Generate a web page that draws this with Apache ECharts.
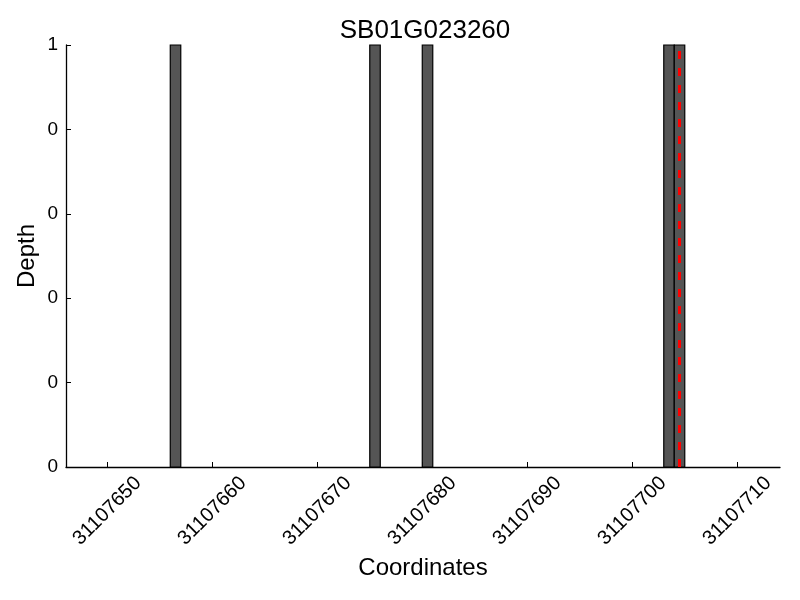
<!DOCTYPE html>
<html>
<head>
<meta charset="utf-8">
<script src="https://cdn.jsdelivr.net/npm/echarts@6/dist/echarts.min.js"></script>
<style>html,body{margin:0;padding:0;background:#fff}#main{width:800px;height:600px}</style>
</head>
<body>
<div id="main"></div>
<script>
const titleText = 'SB01G023260';
const positions = [31107656, 31107675, 31107680, 31107703, 31107704];
const depths = [1, 1, 1, 1, 1];
const markerPositions = [31107704.5];
const xTicks = [31107650, 31107660, 31107670, 31107680, 31107690, 31107700, 31107710];
const yTicks = [0, 0.2, 0.4, 0.6, 0.8, 1];
const xMin = 31107646.07, xMax = 31107714.07;

const chart = echarts.init(document.getElementById('main'), null, {renderer: 'canvas'});
const FONT = 'Liberation Sans';
const barData = positions.map((p, i) => [p, depths[i]]);
const markerData = [];
markerPositions.forEach(m => { markerData.push([m, 0]); markerData.push([m, 1]); });

chart.setOption({
  animation: false,
  backgroundColor: '#ffffff',
  textStyle: {fontFamily: FONT},
  title: {
    text: titleText, left: 420, top: 13, textAlign: 'center',
    textStyle: {fontFamily: FONT, fontSize: 26, fontWeight: 'normal', color: '#000'}
  },
  grid: {left: 66, right: 20, top: 45, bottom: 133},
  xAxis: {
    type: 'value', min: xMin, max: xMax,
    name: 'Coordinates', nameLocation: 'middle', nameGap: 89, nameMoveOverlap: false,
    nameTextStyle: {fontFamily: FONT, fontSize: 24, color: '#000'},
    axisLine: {show: true, onZero: false, lineStyle: {color: '#000', width: 1.3}},
    axisTick: {show: true, inside: true, length: 5, customValues: xTicks, lineStyle: {color: '#000', width: 1}},
    axisLabel: {
      customValues: xTicks, rotate: 45, align: 'center', verticalAlign: 'middle', margin: 44,
      fontFamily: FONT, fontSize: 20, color: '#000',
      formatter: v => String(Math.round(v))
    },
    splitLine: {show: false}
  },
  yAxis: {
    type: 'value', min: 0, max: 1,
    name: 'Depth', nameLocation: 'middle', nameGap: 27, nameRotate: 90, nameMoveOverlap: false,
    nameTextStyle: {fontFamily: FONT, fontSize: 24, color: '#000'},
    axisLine: {show: true, lineStyle: {color: '#000', width: 1.3}},
    axisTick: {show: true, inside: true, length: 5, customValues: yTicks, lineStyle: {color: '#000', width: 1}},
    axisLabel: {
      customValues: yTicks, margin: 8, fontFamily: FONT, fontSize: 19, color: '#000',
      formatter: v => String(Math.floor(v + 1e-9))
    },
    splitLine: {show: false}
  },
  series: [
    {
      type: 'custom',
      data: barData,
      renderItem: function (params, api) {
        const x = api.value(0), y = api.value(1);
        const p0 = api.coord([x, y]);
        const p1 = api.coord([x + 1, 0]);
        return {
          type: 'rect',
          shape: {x: p0[0], y: p0[1], width: p1[0] - p0[0], height: p1[1] - p0[1]},
          style: {fill: '#555555', stroke: '#000000', lineWidth: 1.2}
        };
      }
    },
    {
      type: 'line',
      data: markerData,
      symbol: 'none',
      lineStyle: {color: '#ff0000', width: 3, type: [8, 9]},
      z: 5
    }
  ]
});
</script>
</body>
</html>
